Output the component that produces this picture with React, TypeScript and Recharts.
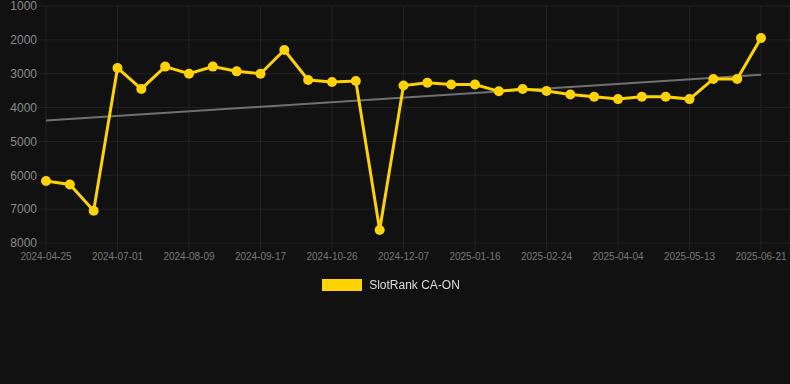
import React from "react";
import { LineChart, Line, XAxis, YAxis, CartesianGrid, Legend } from "recharts";

const dates = [
  "2024-04-25", "2024-05-17", "2024-06-08", "2024-07-01", "2024-07-14", "2024-07-27",
  "2024-08-09", "2024-08-22", "2024-09-04", "2024-09-17", "2024-09-30", "2024-10-13",
  "2024-10-26", "2024-11-09", "2024-11-23", "2024-12-07", "2024-12-20", "2025-01-03",
  "2025-01-16", "2025-01-29", "2025-02-11", "2025-02-24", "2025-03-09", "2025-03-22",
  "2025-04-04", "2025-04-17", "2025-04-30", "2025-05-13", "2025-05-26", "2025-06-08",
  "2025-06-21",
];

const rankValues = [
  6170, 6270, 7045, 2830, 3450, 2790, 3000, 2790, 2930, 3000, 2300, 3185,
  3245, 3215, 7615, 3350, 3265, 3320, 3320, 3520, 3450, 3510, 3615, 3680,
  3750, 3680, 3680, 3750, 3155, 3155, 1945,
];

const trendStart = 4380;
const trendEnd = 3030;

const xTickLabels = [
  "2024-04-25", "2024-07-01", "2024-08-09", "2024-09-17", "2024-10-26", "2024-12-07",
  "2025-01-16", "2025-02-24", "2025-04-04", "2025-05-13", "2025-06-21",
];

const yTicks = [1000, 2000, 3000, 4000, 5000, 6000, 7000, 8000];

const seriesName = "SlotRank CA-ON";

const data = dates.map((d, i) => ({
  date: d,
  rank: rankValues[i],
  trend: i === 0 ? trendStart : i === dates.length - 1 ? trendEnd : null,
}));

const FONT = "'Liberation Sans', Arial, Helvetica, sans-serif";
const YELLOW = "#FFD200";
const GRID = "#222222";

const LegendContent = () => (
  <div style={{ display: "flex", justifyContent: "center", alignItems: "center", fontFamily: FONT }}>
    <div style={{ width: 40, height: 12, background: YELLOW, marginRight: 7 }} />
    <span style={{ fontSize: 12, color: "#dddddd" }}>{seriesName}</span>
  </div>
);

export default function App() {
  return (
    <div
      style={{
        position: "fixed",
        left: 0,
        top: 0,
        width: 790,
        height: 384,
        background: "#111111",
        fontFamily: FONT,
      }}
    >
      <LineChart
        width={790}
        height={384}
        data={data}
        margin={{ top: 6, right: 0, left: 0, bottom: 111 }}
      >
        <CartesianGrid stroke={GRID} strokeWidth={1} />
        <XAxis
          dataKey="date"
          ticks={xTickLabels}
          interval={0}
          height={30}
          padding={{ left: 0, right: 29 }}
          axisLine={false}
          tickLine={{ stroke: GRID }}
          tickSize={8}
          tickMargin={2}
          tick={{ fill: "#777777", fontSize: 10, fontFamily: FONT }}
        />
        <YAxis
          type="number"
          domain={[1000, 8000]}
          ticks={yTicks}
          reversed
          width={46}
          axisLine={false}
          tickLine={{ stroke: GRID }}
          tickSize={8}
          tickMargin={1}
          interval={0}
          tick={{ fill: "#8a8a8a", fontSize: 12, fontFamily: FONT }}
        />
        <Legend
          layout="horizontal"
          verticalAlign="middle"
          align="center"
          content={<LegendContent />}
          wrapperStyle={{ top: 278, left: -4, width: 790 }}
        />
        <Line
          dataKey="trend"
          stroke="#707070"
          strokeWidth={2}
          dot={false}
          activeDot={false}
          connectNulls
          legendType="none"
          isAnimationActive={false}
        />
        <Line
          dataKey="rank"
          name={seriesName}
          stroke={YELLOW}
          strokeWidth={3}
          dot={{ r: 5, fill: YELLOW, stroke: YELLOW, strokeWidth: 0 }}
          activeDot={false}
          isAnimationActive={false}
        />
      </LineChart>
    </div>
  );
}
